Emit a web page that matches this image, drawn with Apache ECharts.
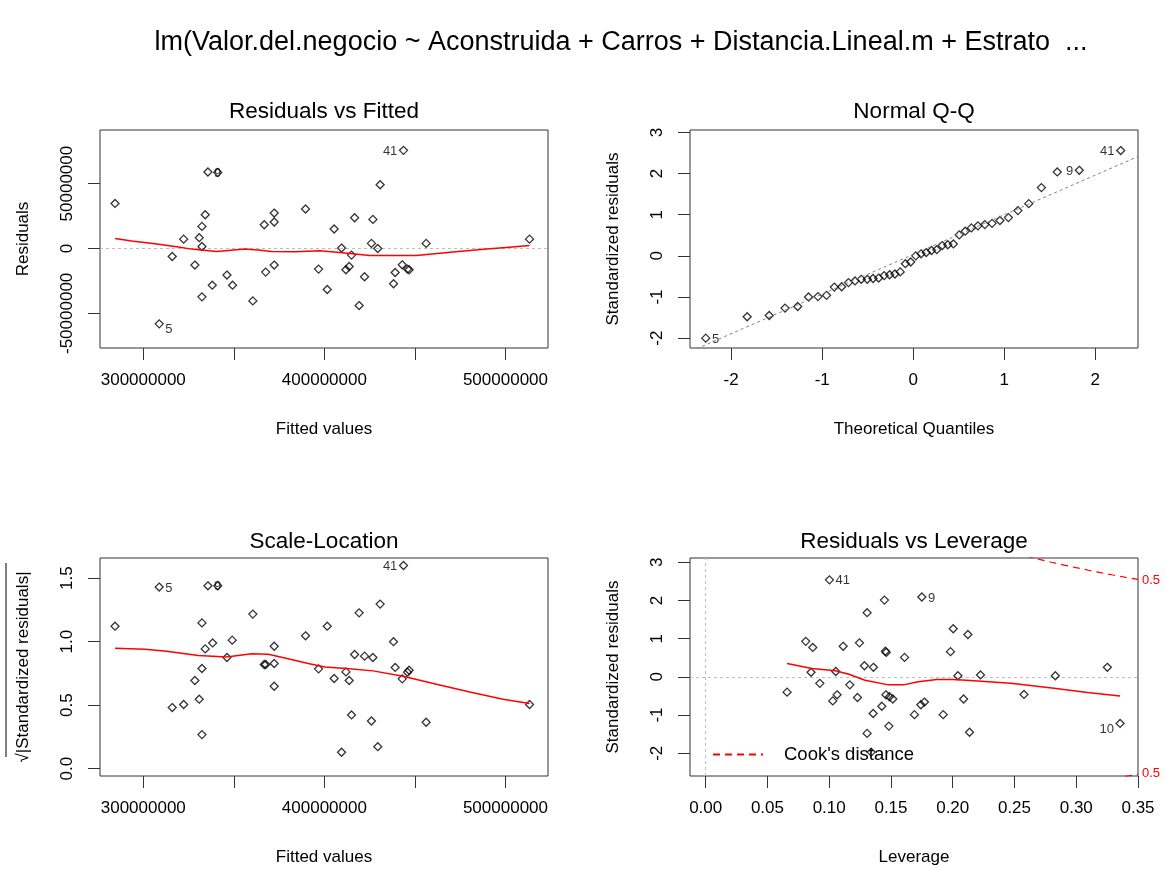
<!DOCTYPE html>
<html><head><meta charset="utf-8">
<script src="https://cdn.jsdelivr.net/npm/echarts@6/dist/echarts.min.js"></script>
<style>html,body{margin:0;padding:0;background:#fff}#c{width:1167px;height:869px}</style>
</head><body><div id="c"></div>
<script>
// ---------- titles ----------
const mainTitle = "lm(Valor.del.negocio ~ Aconstruida + Carros + Distancia.Lineal.m + Estrato  ...";
const panelTitles = ["Residuals vs Fitted", "Normal Q-Q", "Scale-Location", "Residuals vs Leverage"];

// ---------- Residuals vs Fitted (values in millions) ----------
const rfFitted = [284.4,335.7,341.1,334.2,332.4,330.9,332.4,322.3,316.0,328.5,338.1,332.4,346.2,349.3,360.5,308.8,366.8,372.3,372.3,367.6,372.3,389.6,396.8,401.6,405.4,409.5,415.0,411.9,413.7,416.7,426.8,426.0,429.5,430.8,419.2,422.2,439.1,438.2,443.0,445.9,446.8,443.7,456.2,513.3];
const rfResid  = [34.7,58.9,58.6,26.0,17.0,8.3,1.5,7.2,-6.2,-12.8,-28.3,-37.3,-20.5,-28.3,-40.4,-58.1,18.3,27.3,20.4,-18.2,-12.8,30.4,-15.9,-31.6,15.0,0.3,-5.1,-16.4,-13.9,23.7,22.4,3.9,0.0,49.1,-44.0,-21.8,-18.5,-27.2,-12.6,-15.9,-16.4,75.6,3.9,7.2];
const rfLabelIdx = [1, 15, 41];
const rfLabelTxt = ["9", "5", "41"];
const rfSmoothX = [284.4,293.6,306.5,319.3,326.7,340.5,346.9,356.1,363.5,370.9,383.7,397.5,408.5,425.1,450.8,471.0,489.5,500.5,513.3];
const rfSmoothY = [7.7,5.7,3.6,1.1,-0.5,-2.3,-1.5,-0.5,-1.2,-2.3,-2.5,-1.8,-3.1,-5.4,-5.4,-2.8,-0.5,0.8,2.3];
const rfXTicks = [300,350,400,450,500];
const rfXLabels = [300,400,500];
const rfYTicks = [-50,0,50];

// ---------- Normal Q-Q ----------
const qqTheo = [-2.279,-1.824,-1.582,-1.408,-1.269,-1.150,-1.046,-0.952,-0.866,-0.786,-0.711,-0.639,-0.571,-0.505,-0.441,-0.380,-0.319,-0.259,-0.201,-0.143,-0.086,-0.028,0.028,0.086,0.143,0.201,0.259,0.319,0.380,0.441,0.505,0.571,0.639,0.711,0.786,0.866,0.952,1.046,1.150,1.269,1.408,1.582,1.824,2.279];
const qqStd  = [-2.00,-1.48,-1.45,-1.27,-1.23,-1.00,-0.99,-0.96,-0.76,-0.75,-0.65,-0.61,-0.57,-0.57,-0.55,-0.54,-0.48,-0.46,-0.44,-0.39,-0.19,-0.15,0.00,0.05,0.08,0.13,0.15,0.25,0.27,0.29,0.51,0.60,0.68,0.73,0.76,0.79,0.86,0.93,1.10,1.27,1.66,2.04,2.08,2.56];
const qqLabelIdx = [0, 42, 43];
const qqLabelTxt = ["5", "9", "41"];
const qqLineX = [-2.5, 2.5];
const qqLineY = [-2.375, 2.445];
const qqXTicks = [-2,-1,0,1,2];
const qqYTicks = [-2,-1,0,1,2,3];

// ---------- Scale-Location ----------
const slFitted = [284.4,308.8,335.7,341.1,332.4,338.3,334.2,349.1,360.5,346.2,332.4,328.5,330.9,322.3,316.0,332.4,366.8,367.6,372.3,372.3,372.3,389.6,396.8,401.6,405.4,409.5,411.9,413.7,415.0,416.7,419.2,422.2,426.0,426.8,429.5,430.8,438.2,439.1,443.0,445.9,446.8,443.7,456.2,513.3];
const slSqrt   = [1.122,1.43,1.44,1.44,1.148,0.99,0.943,1.012,1.217,0.875,0.789,0.694,0.547,0.505,0.481,0.268,0.82,0.82,0.964,0.828,0.649,1.046,0.786,1.122,0.71,0.129,0.762,0.694,0.423,0.899,1.227,0.886,0.375,0.875,0.173,1.296,1.0,0.797,0.707,0.759,0.775,1.60,0.365,0.505];
const slLabelIdx = [1, 2, 41];
const slLabelTxt = ["5", "9", "41"];
const slSmoothX = [284.4,300.9,312.9,330.4,346.0,359.8,369.0,378.2,391.1,400.3,412.2,426.9,443.5,461.9,480.3,498.7,513.3];
const slSmoothY = [0.949,0.941,0.925,0.891,0.880,0.904,0.901,0.872,0.828,0.801,0.789,0.770,0.728,0.665,0.604,0.547,0.513];
const slYTicks = [0,0.5,1,1.5];

// ---------- Residuals vs Leverage ----------
const lvH = [0.1002,0.1447,0.1307,0.0810,0.0867,0.1113,0.1245,0.1455,0.1462,0.1610,0.1285,0.1358,0.0853,0.1053,0.0924,0.1167,0.0659,0.1064,0.1029,0.1229,0.1459,0.1488,0.1515,0.1426,0.1356,0.1483,0.1307,0.1340,0.1690,0.1750,0.2004,0.2123,0.1982,0.2042,0.2225,0.2831,0.3252,0.2577,0.2088,0.1742,0.1771,0.1923,0.2136,0.3355];
const lvStd = [2.54,2.01,1.68,0.93,0.77,0.80,0.89,0.67,0.64,0.51,0.29,0.25,0.12,0.14,-0.17,-0.21,-0.40,-0.47,-0.63,-0.54,-0.47,-0.52,-0.58,-0.77,-0.96,-1.29,-1.48,-1.97,-0.99,2.09,1.26,1.11,0.66,0.03,0.05,0.03,0.25,-0.46,-0.58,-0.73,-0.66,-0.99,-1.45,-1.22];
const lvLabelIdx = [0, 29, 43];
const lvLabelTxt = ["41", "9", "10"];
const lvSmoothX = [0.0659,0.086,0.105,0.116,0.129,0.148,0.160,0.172,0.187,0.200,0.211,0.247,0.282,0.309,0.3355];
const lvSmoothY = [0.35,0.22,0.16,0.07,-0.09,-0.21,-0.21,-0.13,-0.07,-0.07,-0.09,-0.17,-0.30,-0.41,-0.50];
const cookUpX = [0.25,0.26,0.27,0.28,0.29,0.30,0.31,0.32,0.33,0.34,0.35];
const cookUpY = [3.240,3.156,3.076,3.000,2.927,2.858,2.791,2.727,2.666,2.607,2.550];
const cookLoX = [0.33,0.34,0.35];
const cookLoY = [-2.666,-2.607,-2.550];
const cookLevelPos = [2.53, -2.53];
const cookLevelTxt = "0.5";
const lvXTicks = [0,0.05,0.10,0.15,0.20,0.25,0.30,0.35];
const lvYTicks = [-2,-1,0,1,2,3];

// ---------- build ----------
const FONT = "'Liberation Sans', Arial, Helvetica, sans-serif";
const AX = 17;

function zip(xs, ys) { return xs.map((x, i) => [x, ys[i]]); }
function pointData(xs, ys, idx, txt, shiftNeg) {
  const mid = (Math.min(...xs) + Math.max(...xs)) / 2;
  return xs.map((x, i) => {
    const item = { value: [x, ys[i]] };
    const k = idx.indexOf(i);
    if (k >= 0) {
      item.label = {
        show: true, formatter: txt[k], position: x > mid ? 'left' : 'right', distance: 1.5,
        fontSize: 13, color: '#000', fontFamily: FONT,
        offset: [0, (shiftNeg && ys[i] < 0) ? 6 : 1]
      };
    }
    return item;
  });
}
function xAx(gi, min, max, ticks, labels, fmt, name) {
  return {
    type: 'value', gridIndex: gi, min, max, name, nameLocation: 'middle', nameGap: 73,
    nameTextStyle: { fontSize: AX, color: '#000', fontFamily: FONT },
    axisLine: { show: false, onZero: false },
    axisTick: { show: true, inside: false, length: 12, customValues: ticks, lineStyle: { color: '#333', width: 1 } },
    axisLabel: { customValues: labels, formatter: fmt, fontSize: AX, color: '#000', fontFamily: FONT, margin: 24 },
    splitLine: { show: false }
  };
}
function yAx(gi, min, max, ticks, labels, fmt, name) {
  return {
    type: 'value', gridIndex: gi, min, max, name, nameLocation: 'middle', nameGap: 68,
    nameTextStyle: { fontSize: AX, color: '#000', fontFamily: FONT },
    axisLine: { show: false, onZero: false },
    axisTick: { show: true, inside: false, length: 12, customValues: ticks, lineStyle: { color: '#333', width: 1 } },
    axisLabel: { customValues: labels, formatter: fmt, fontSize: AX, color: '#000', fontFamily: FONT, margin: 24, rotate: 90 },
    splitLine: { show: false }
  };
}
const big = v => String(Math.round(v * 1e6));
const gridBox = { show: true, borderColor: '#333', borderWidth: 1, backgroundColor: 'transparent' };
const pointStyle = { color: 'rgba(0,0,0,0)', borderColor: '#000', borderWidth: 1.3 };
const dotted = { color: '#BEBEBE', width: 1, type: [3, 3] };
function scatter(xi, data, markLines) {
  const s = { type: 'scatter', xAxisIndex: xi, yAxisIndex: xi, data, symbol: 'diamond', symbolSize: 8,
    itemStyle: pointStyle, emphasis: { disabled: true }, z: 3 };
  if (markLines) s.markLine = { silent: true, symbol: ['none', 'none'], label: { show: false }, lineStyle: dotted, data: markLines, z: 1 };
  return s;
}
function line(xi, yi, data, style, name) {
  return { type: 'line', name, xAxisIndex: xi, yAxisIndex: yi, data, symbol: 'none', showSymbol: false,
    lineStyle: style, itemStyle: { color: style.color }, clip: true, connectNulls: false, emphasis: { disabled: true }, z: 4 };
}
const redLine = { color: '#FF0000', width: 1.5 };

const titleStyle = { fontSize: 22.5, fontWeight: 'normal', color: '#000', fontFamily: FONT };
const option = {
  animation: false,
  backgroundColor: '#fff',
  title: [
    { text: mainTitle, left: 621, top: 29, textAlign: 'center', padding: 0, textStyle: { fontSize: 27, fontWeight: 'normal', color: '#000', fontFamily: FONT } },
    { text: panelTitles[0], left: 324, top: 100, textAlign: 'center', padding: 0, textStyle: titleStyle },
    { text: panelTitles[1], left: 914, top: 100, textAlign: 'center', padding: 0, textStyle: titleStyle },
    { text: panelTitles[2], left: 324, top: 530, textAlign: 'center', padding: 0, textStyle: titleStyle },
    { text: panelTitles[3], left: 914, top: 530, textAlign: 'center', padding: 0, textStyle: titleStyle }
  ],
  grid: [
    Object.assign({ left: 100, top: 130, width: 448, height: 218 }, gridBox),
    Object.assign({ left: 690, top: 130, width: 448, height: 218 }, gridBox),
    Object.assign({ left: 100, top: 558, width: 448, height: 218 }, gridBox),
    Object.assign({ left: 690, top: 558, width: 448, height: 218 }, gridBox)
  ],
  xAxis: [
    xAx(0, 276.1, 523.5, rfXTicks, rfXLabels, big, 'Fitted values'),
    xAx(1, -2.452, 2.469, qqXTicks, qqXTicks, v => String(v), 'Theoretical Quantiles'),
    xAx(2, 276.1, 523.5, rfXTicks, rfXLabels, big, 'Fitted values'),
    xAx(3, -0.0127, 0.350, lvXTicks, lvXTicks, v => v.toFixed(2), 'Leverage')
  ],
  yAxis: [
    yAx(0, -76.7, 91.3, rfYTicks, rfYTicks, big, 'Residuals'),
    yAx(1, -2.24, 3.06, qqYTicks, qqYTicks, v => String(v), 'Standardized residuals'),
    yAx(2, -0.058, 1.659, slYTicks, slYTicks, v => v.toFixed(1), '\u221A|Standardized residuals|'),
    yAx(3, -2.596, 3.112, lvYTicks, lvYTicks, v => String(v), 'Standardized residuals'),
    {
      type: 'value', gridIndex: 3, position: 'right', min: -2.596, max: 3.112,
      axisLine: { show: false, onZero: false }, axisTick: { show: false }, splitLine: { show: false },
      axisLabel: { customValues: cookLevelPos, formatter: () => cookLevelTxt, color: '#FF0000', fontSize: 13, fontFamily: FONT, margin: 4 }
    }
  ],
  legend: {
    data: ["Cook's distance"], left: 712, top: 745, padding: 0, itemWidth: 50, itemHeight: 14,
    selectedMode: false,
    itemStyle: { color: 'rgba(0,0,0,0)', borderColor: 'rgba(0,0,0,0)', borderWidth: 0, opacity: 0 },
    textStyle: { fontSize: 18.5, color: '#000', fontFamily: FONT, padding: [0, 0, 0, 16] }
  },
  series: [
    scatter(0, pointData(rfFitted, rfResid, rfLabelIdx, rfLabelTxt, true), [{ yAxis: 0 }]),
    line(0, 0, zip(rfSmoothX, rfSmoothY), redLine),
    scatter(1, pointData(qqTheo, qqStd, qqLabelIdx, qqLabelTxt, false)),
    line(1, 1, zip(qqLineX, qqLineY), { color: '#808080', width: 1, type: [3, 3] }),
    scatter(2, pointData(slFitted, slSqrt, slLabelIdx, slLabelTxt, false)),
    line(2, 2, zip(slSmoothX, slSmoothY), redLine),
    scatter(3, pointData(lvH, lvStd, lvLabelIdx, lvLabelTxt, true), [{ xAxis: 0 }, { yAxis: 0 }]),
    line(3, 3, zip(lvSmoothX, lvSmoothY), redLine),
    line(3, 3, zip(cookUpX, cookUpY).concat([[null, null]], zip(cookLoX, cookLoY)), { color: '#FF0000', width: 1.2, type: [7, 5] }, "Cook's distance")
  ],
  graphic: [
    { type: 'line', shape: { x1: 6, y1: 563, x2: 6, y2: 757 }, style: { stroke: '#000', lineWidth: 1 }, z: 10 }
  ]
};
const chart = echarts.init(document.getElementById('c'));
chart.setOption(option);
</script>
</body></html>
